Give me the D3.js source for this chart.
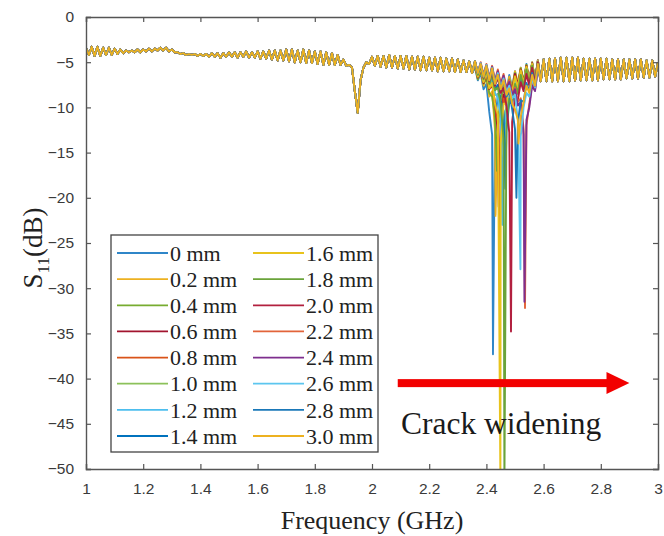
<!DOCTYPE html>
<html>
<head>
<meta charset="utf-8">
<script src="https://cdn.jsdelivr.net/npm/d3@7"></script>
<style>
  body { margin: 0; background: #fff; }
  svg { display: block; }
</style>
</head>
<body>
<svg id="chart" width="664" height="536"></svg>
<script>
// frequency grid (GHz), 0.01 step, and the shared S11 curve (dB)
const freqStart = 1.0;
const freqStep = 0.01;
const baseline = [
  -3.4,-4.2,-3.3,-4.3,-3.3,-4.3,-3.4,-4.2,-3.4,-4.2,
  -3.5,-4.1,-3.6,-4.0,-3.7,-3.9,-3.7,-3.9,-3.6,-3.9,
  -3.6,-3.8,-3.5,-3.8,-3.5,-3.7,-3.4,-3.7,-3.4,-3.8,
  -3.6,-3.9,-3.9,-4.1,-4.0,-4.2,-4.1,-4.2,-4.1,-4.3,
  -4.1,-4.3,-4.1,-4.4,-4.0,-4.4,-4.0,-4.5,-4.0,-4.4,
  -3.9,-4.4,-3.9,-4.5,-3.9,-4.4,-3.8,-4.5,-3.9,-4.5,
  -3.8,-4.6,-3.8,-4.6,-3.7,-4.7,-3.7,-4.8,-3.7,-4.8,
  -3.6,-4.9,-3.6,-5.0,-3.7,-5.0,-3.6,-5.1,-3.7,-5.1,
  -3.8,-5.2,-3.8,-5.3,-3.9,-5.3,-4.0,-5.3,-4.2,-5.3,
  -4.7,-5.4,-5.3,-5.6,-8.2,-10.6,-7.0,-5.6,-5.0,-5.2,
  -4.4,-5.4,-4.3,-5.5,-4.3,-5.6,-4.2,-5.6,-4.3,-5.7,
  -4.3,-5.7,-4.3,-5.8,-4.4,-5.8,-4.4,-5.9,-4.4,-5.9,
  -4.5,-5.9,-4.5,-6.0,-4.5,-6.0,-4.6,-6.0,-4.6,-6.1,
  -4.7,-6.1,-4.8,-6.1,-4.9,-6.2,-5.0,-6.3,-5.2,-6.4,
  -5.4,-6.6,-5.6,-6.8,-5.8,-6.9,-5.8,-7.0,-5.6,-7.0,
  -5.4,-7.0,-5.2,-7.0,-5.0,-7.0,-4.9,-7.1,-4.8,-7.1,
  -4.7,-7.1,-4.6,-7.1,-4.6,-7.1,-4.5,-7.1,-4.5,-7.1,
  -4.5,-7.0,-4.5,-7.0,-4.6,-7.0,-4.6,-7.0,-4.6,-7.0,
  -4.6,-6.9,-4.6,-6.9,-4.7,-6.9,-4.7,-6.9,-4.7,-6.8,
  -4.7,-6.8,-4.7,-6.8,-4.7,-6.7,-4.8,-6.7,-4.8,-6.6,-5.0
];

// resonance band 2.36 .. 2.58 GHz (grid index 136..158) for each crack width
const notchStart = 136;
const labels = ["0 mm","0.2 mm","0.4 mm","0.6 mm","0.8 mm","1.0 mm","1.2 mm","1.4 mm",
                "1.6 mm","1.8 mm","2.0 mm","2.2 mm","2.4 mm","2.6 mm","2.8 mm","3.0 mm"];
const colors = ["#2f86c8","#edb120","#77ac30","#a2142f","#d95319","#8cc15a","#4dbeee","#0072bd",
                "#e8c31c","#6aa33a","#b2203f","#e2643a","#7e2f8e","#5cc6ef","#1a78b8","#edb120"];
const minFreq = [2.423,2.432,2.437,2.443,2.447,2.452,2.456,2.466,
                 2.449,2.463,2.486,2.535,2.533,2.519,2.505,2.512];
const minDb   = [-37.3,-22,-17,-21,-28.5,-15,-23,-19,
                 -52,-52,-34.8,-32.2,-31.5,-27.9,-20,-14];
const notches = [
  [-5.6,-7.0,-6.2,-8.0,-7.4,-10.5,-13.0,-12.0,-8.5,-9.6,-7.0,-8.4,-6.4,-7.8,-6.0,-7.5,-5.6,-7.2,-5.2,-7.1,-5.0,-7.1,-4.8],
  [-5.2,-6.8,-5.8,-7.6,-6.6,-8.8,-8.2,-12.5,-11.0,-9.8,-7.6,-8.6,-6.6,-7.9,-6.0,-7.4,-5.6,-7.3,-5.3,-7.1,-5.0,-7.0,-4.8],
  [-5.4,-6.9,-5.9,-7.4,-6.8,-8.4,-8.8,-11.0,-12.2,-8.9,-8.0,-8.8,-6.9,-8.0,-6.2,-7.6,-5.7,-7.2,-5.3,-7.1,-5.1,-7.0,-4.8],
  [-5.3,-6.7,-5.7,-7.3,-6.3,-8.0,-7.5,-9.4,-12.8,-11.5,-8.6,-9.2,-7.1,-8.2,-6.3,-7.6,-5.8,-7.3,-5.4,-7.2,-5.1,-7.1,-4.8],
  [-5.1,-6.6,-5.6,-7.2,-6.0,-7.8,-7.2,-9.8,-11.6,-13.4,-9.0,-9.8,-7.4,-8.5,-6.5,-7.8,-5.9,-7.4,-5.5,-7.2,-5.2,-7.1,-4.9],
  [-5.0,-6.5,-5.5,-7.1,-5.9,-7.6,-6.8,-8.6,-8.6,-11.2,-11.8,-9.9,-7.8,-8.8,-6.8,-8.0,-6.1,-7.5,-5.6,-7.3,-5.2,-7.1,-4.9],
  [-5.0,-6.4,-5.4,-7.0,-5.8,-7.5,-6.6,-8.4,-8.9,-10.8,-13.0,-10.6,-8.2,-9.0,-7.0,-8.1,-6.2,-7.6,-5.7,-7.3,-5.3,-7.2,-4.9],
  [-4.9,-6.3,-5.3,-6.9,-5.6,-7.3,-6.3,-8.0,-7.5,-9.2,-10.4,-12.6,-9.4,-9.6,-7.6,-8.5,-6.5,-7.8,-5.9,-7.4,-5.4,-7.2,-5.0],
  [-5.2,-6.6,-5.6,-7.2,-6.1,-7.9,-7.3,-9.6,-10.8,-14.0,-9.6,-9.6,-7.5,-8.4,-6.6,-7.8,-5.9,-7.4,-5.5,-7.2,-5.2,-7.1,-4.9],
  [-4.9,-6.4,-5.4,-6.9,-5.7,-7.4,-6.4,-8.1,-7.8,-9.6,-13.5,-12.0,-9.0,-9.4,-7.4,-8.4,-6.4,-7.7,-5.8,-7.4,-5.4,-7.2,-5.0],
  [-4.9,-6.2,-5.2,-6.7,-5.4,-7.1,-5.9,-7.6,-6.7,-8.4,-7.8,-9.8,-12.8,-11.6,-9.0,-9.2,-7.2,-8.2,-6.3,-7.6,-5.6,-7.3,-5.0],
  [-4.9,-6.1,-5.0,-6.4,-5.2,-6.7,-5.4,-7.0,-5.8,-7.4,-6.3,-7.8,-7.0,-8.4,-7.8,-9.4,-9.0,-12.4,-12.0,-9.6,-7.4,-8.0,-5.6],
  [-4.9,-6.2,-5.1,-6.5,-5.3,-6.8,-5.5,-7.1,-6.0,-7.5,-6.5,-8.0,-7.2,-8.6,-8.0,-9.8,-9.4,-13.0,-11.4,-10.0,-7.6,-8.2,-5.8],
  [-4.9,-6.2,-5.1,-6.6,-5.3,-6.9,-5.6,-7.3,-6.2,-7.8,-6.8,-8.3,-7.6,-9.0,-8.6,-11.4,-13.2,-10.0,-8.4,-8.8,-6.8,-7.8,-5.4],
  [-4.9,-6.2,-5.2,-6.6,-5.4,-7.0,-5.7,-7.4,-6.4,-8.0,-7.1,-8.8,-8.2,-10.2,-12.4,-11.8,-9.2,-9.4,-7.3,-8.2,-6.2,-7.6,-5.2],
  [-4.9,-6.2,-5.2,-6.6,-5.4,-7.0,-5.7,-7.4,-6.4,-8.0,-7.0,-8.6,-7.9,-9.6,-10.2,-11.4,-11.0,-9.4,-7.6,-8.4,-6.4,-7.6,-5.2]
];
const xTicks = [1,1.2,1.4,1.6,1.8,2,2.2,2.4,2.6,2.8,3];
const yTicks = [0,-5,-10,-15,-20,-25,-30,-35,-40,-45,-50];

const svg = d3.select("#chart");
const plotL = 86, plotR = 658, plotT = 17, plotB = 469;

const x = d3.scaleLinear().domain([1, 3]).range([plotL, plotR]);
const y = d3.scaleLinear().domain([-50, 0]).range([plotB, plotT]);

// build each series: shared curve outside the resonance band, its own notch inside
const series = labels.map((name, s) => {
  const pts = [];
  baseline.forEach((v, i) => {
    const f = +(freqStart + i * freqStep).toFixed(2);
    const k = i - notchStart;
    if (k >= 0 && k < notches[s].length) {
      pts.push([f, notches[s][k]]);
      if (minFreq[s] > f && minFreq[s] < f + freqStep) pts.push([minFreq[s], minDb[s]]);
    } else {
      pts.push([f, v]);
    }
  });
  return { name, color: colors[s], pts };
});

svg.append("defs").append("clipPath").attr("id", "clip")
  .append("rect")
  .attr("x", plotL).attr("y", plotT)
  .attr("width", plotR - plotL).attr("height", plotB - plotT);

const line = d3.line().x(d => x(d[0])).y(d => y(d[1]));

svg.append("g").attr("clip-path", "url(#clip)")
  .selectAll("path")
  .data(series)
  .join("path")
  .attr("d", d => line(d.pts))
  .attr("fill", "none")
  .attr("stroke", d => d.color)
  .attr("stroke-width", 1.9)
  .attr("stroke-linejoin", "round");

// axes, MATLAB style: box with inward ticks on all four sides
const tickColor = "#555";
const axisB = svg.append("g").attr("transform", `translate(0,${plotB})`)
  .call(d3.axisBottom(x).tickValues(xTicks).tickSize(-5).tickPadding(14).tickFormat(d3.format("")));
const axisT = svg.append("g").attr("transform", `translate(0,${plotT})`)
  .call(d3.axisTop(x).tickValues(xTicks).tickSize(-5).tickFormat(""));
const axisL = svg.append("g").attr("transform", `translate(${plotL},0)`)
  .call(d3.axisLeft(y).tickValues(yTicks).tickSize(-5).tickPadding(12).tickFormat(d3.format("")));
const axisR = svg.append("g").attr("transform", `translate(${plotR},0)`)
  .call(d3.axisRight(y).tickValues(yTicks).tickSize(-5).tickFormat(""));

[axisB, axisT, axisL, axisR].forEach(g => {
  g.select(".domain").attr("stroke", tickColor).attr("stroke-width", 1.4);
  g.selectAll(".tick line").attr("stroke", tickColor).attr("stroke-width", 1.2);
  g.selectAll(".tick text")
    .attr("fill", "#3a3a3a")
    .style("font-family", "Liberation Sans, Arial, sans-serif")
    .style("font-size", "15.5px");
});

// axis titles
svg.append("text")
  .attr("x", (plotL + plotR) / 2).attr("y", 529)
  .attr("text-anchor", "middle")
  .style("font-family", "Liberation Serif, Times New Roman, serif")
  .style("font-size", "26px")
  .attr("fill", "#222")
  .text("Frequency (GHz)");

const yl = svg.append("text")
  .attr("transform", "translate(42,248) rotate(-90)")
  .attr("text-anchor", "middle")
  .style("font-family", "Liberation Serif, Times New Roman, serif")
  .style("font-size", "27px")
  .attr("fill", "#222");
yl.append("tspan").text("S");
yl.append("tspan").attr("dy", 7).style("font-size", "17px").text("11");
yl.append("tspan").attr("dy", -7).text("(dB)");

// legend, two columns of eight
const lg = svg.append("g");
lg.append("rect")
  .attr("x", 111).attr("y", 235).attr("width", 267).attr("height", 217)
  .attr("fill", "#fff").attr("stroke", "#444").attr("stroke-width", 1.3);

const rowY = d3.scalePoint().domain(d3.range(8)).range([253, 436]);
const item = lg.selectAll("g.item")
  .data(series)
  .join("g")
  .attr("class", "item")
  .attr("transform", (d, i) => `translate(${i < 8 ? 117 : 253},${rowY(i % 8)})`);
item.append("line")
  .attr("x1", 0).attr("x2", 51)
  .attr("stroke", d => d.color).attr("stroke-width", 1.8);
item.append("text")
  .attr("x", 53).attr("dy", "0.35em")
  .style("font-family", "Liberation Serif, Times New Roman, serif")
  .style("font-size", "22px")
  .attr("fill", "#222")
  .text(d => d.name);

// annotation arrow
const arrowY = y(-40.5);
svg.append("rect")
  .attr("x", x(2.09)).attr("y", arrowY - 4)
  .attr("width", x(2.83) - x(2.09)).attr("height", 8)
  .attr("fill", "#f20000");
svg.append("path")
  .attr("d", `M${x(2.82)},${arrowY - 11}L${x(2.9)},${arrowY}L${x(2.82)},${arrowY + 11}Z`)
  .attr("fill", "#f20000");

svg.append("text")
  .attr("x", 401).attr("y", 434)
  .style("font-family", "Liberation Serif, Times New Roman, serif")
  .style("font-size", "31.5px")
  .attr("fill", "#1a1a1a")
  .text("Crack widening");
</script>
</body>
</html>
